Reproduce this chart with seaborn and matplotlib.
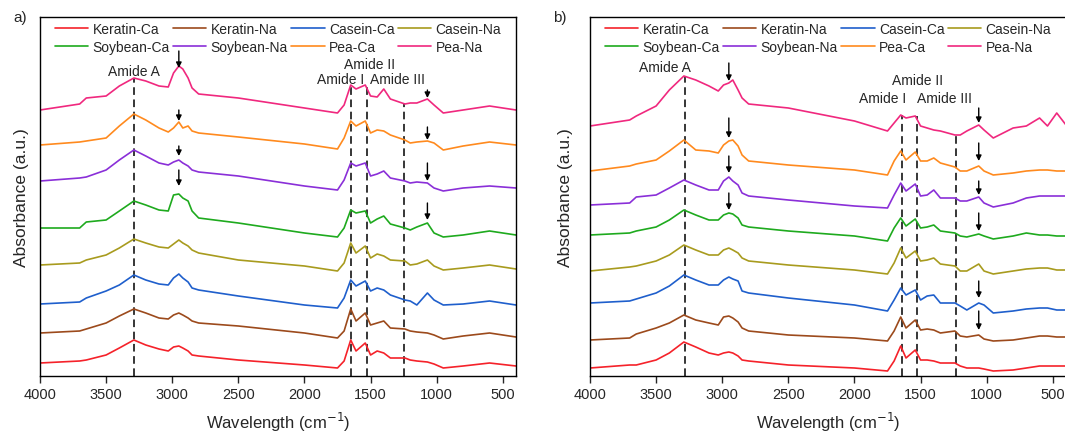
import numpy as np
import pandas as pd
import matplotlib
matplotlib.use("Agg")
import matplotlib.pyplot as plt
import seaborn as sns

# ---------------- data ----------------
series = ["Keratin-Ca", "Keratin-Na", "Casein-Ca", "Casein-Na",
          "Soybean-Ca", "Soybean-Na", "Pea-Ca", "Pea-Na"]
colors = ["#f5222a", "#9c4a1c", "#1f5fcc", "#a89b1e",
          "#1eaa1e", "#8a2fd8", "#ff8a1e", "#f0287e"]

wave_a = [4000, 3700, 3650, 3500, 3400, 3290, 3200, 3100, 3030, 2990, 2950, 2920,
          2880, 2850, 2800, 2500, 2000, 1750, 1700, 1650, 1610, 1540, 1500, 1450,
          1400, 1350, 1240, 1200, 1150, 1070, 1020, 950, 800, 600, 400]

a_keratin_ca = [13, 15, 16, 21, 28, 36, 31, 27, 25, 29, 30, 28, 25, 21, 20, 16, 11, 8, 15, 36,
                25, 33, 21, 25, 23, 18, 18, 16, 15, 14, 12, 8, 10, 13, 10]
a_keratin_na = [43, 45, 47, 53, 60, 67, 63, 58, 57, 61, 63, 61, 58, 55, 53, 50, 43, 38, 45, 67,
                55, 63, 51, 53, 55, 48, 47, 45, 44, 43, 41, 37, 40, 43, 39]
a_casein_ca = [72, 74, 78, 85, 91, 101, 96, 92, 91, 98, 102, 98, 94, 88, 86, 80, 71, 68, 78, 96,
               90, 95, 85, 88, 86, 81, 76, 75, 71, 83, 76, 71, 72, 75, 71]
a_casein_na = [111, 113, 116, 121, 128, 137, 133, 129, 128, 132, 136, 133, 130, 126, 123, 116, 110,
               105, 113, 133, 123, 130, 118, 122, 120, 116, 115, 111, 112, 116, 110, 106, 108, 111, 107]
a_soy_ca = [148, 148, 154, 156, 165, 175, 171, 166, 165, 181, 182, 178, 175, 165, 158, 153, 143,
            139, 148, 166, 163, 165, 153, 157, 160, 152, 148, 146, 149, 153, 143, 139, 141, 145, 141]
a_soy_na = [195, 198, 199, 206, 216, 226, 220, 213, 211, 214, 216, 213, 210, 206, 204, 200, 190,
            186, 196, 213, 210, 213, 200, 202, 205, 198, 195, 193, 194, 193, 188, 185, 188, 190, 188]
a_pea_ca = [231, 234, 235, 238, 250, 262, 256, 248, 244, 248, 254, 248, 250, 245, 243, 239, 232,
            227, 238, 255, 250, 255, 243, 246, 245, 241, 236, 233, 234, 235, 233, 226, 230, 234, 231]
a_pea_na = [266, 272, 278, 280, 290, 298, 295, 290, 289, 303, 310, 307, 298, 288, 282, 278, 268,
            263, 271, 291, 287, 291, 280, 279, 287, 277, 272, 273, 273, 277, 271, 263, 266, 270, 266]

wave_b = [4000, 3700, 3650, 3500, 3400, 3290, 3200, 3100, 3030, 2990, 2950, 2920,
          2880, 2850, 2800, 2500, 2000, 1750, 1700, 1650, 1610, 1540, 1500, 1450,
          1400, 1350, 1240, 1200, 1150, 1060, 1020, 950, 800, 700, 600, 540, 470, 400]

b_keratin_ca = [8, 11, 11, 16, 23, 34, 29, 23, 21, 23, 24, 23, 20, 16, 15, 11, 8, 5, 15, 30,
                18, 26, 16, 16, 15, 13, 13, 10, 8, 8, 7, 5, 6, 8, 10, 10, 10, 10]
b_keratin_na = [36, 38, 42, 48, 53, 61, 56, 53, 51, 59, 60, 58, 54, 48, 45, 41, 38, 35, 45, 59,
                48, 56, 46, 47, 46, 43, 45, 40, 39, 41, 37, 35, 36, 38, 40, 40, 39, 39]
b_casein_ca = [73, 75, 77, 83, 90, 101, 96, 91, 91, 96, 99, 97, 95, 85, 83, 78, 71, 65, 76, 88,
               81, 86, 76, 80, 81, 73, 73, 70, 66, 73, 71, 63, 65, 67, 68, 68, 66, 66]
b_casein_na = [105, 109, 110, 115, 121, 131, 126, 121, 121, 126, 128, 126, 123, 118, 115, 111, 106,
               102, 113, 128, 118, 125, 115, 116, 118, 112, 110, 105, 105, 112, 105, 102, 105, 107, 108, 108, 106, 106]
b_soy_ca = [141, 143, 145, 149, 156, 166, 161, 156, 156, 161, 163, 162, 158, 151, 149, 145, 140,
            135, 148, 158, 150, 157, 148, 149, 151, 145, 143, 140, 139, 142, 140, 137, 140, 143, 141, 141, 140, 140]
b_soy_na = [171, 173, 179, 181, 188, 196, 191, 186, 186, 195, 199, 195, 191, 183, 180, 176, 170,
            168, 181, 193, 185, 192, 180, 181, 186, 178, 178, 175, 175, 179, 173, 169, 173, 178, 180, 180, 180, 180]
b_pea_ca = [205, 210, 212, 216, 225, 236, 226, 225, 223, 231, 235, 236, 230, 221, 215, 211, 206,
            201, 215, 225, 216, 224, 215, 215, 218, 213, 209, 205, 205, 210, 205, 201, 203, 205, 206, 206, 205, 205]
b_pea_na = [250, 256, 260, 270, 286, 300, 296, 290, 285, 291, 293, 296, 286, 278, 272, 268, 255,
            245, 253, 261, 258, 260, 250, 248, 246, 245, 241, 241, 245, 251, 246, 238, 248, 250, 258, 250, 263, 251]

amide_labels = ["Amide A", "Amide I", "Amide II", "Amide III"]
# panel a annotation anchors (wavenumber, value)
a_line_w = [3290, 1645, 1530, 1245]
a_line_top = [298, 291, 291, 273]
a_text_w = [3290, 1730, 1510, 1300]
a_text_y = [305, 297, 312, 297]
a_arrow_w = [2950, 2950, 2950, 2950, 1070, 1070, 1070, 1070]
a_arrow_tail = [325, 266, 230, 206, 286, 249, 213, 173]
a_arrow_tip = [308, 255, 220, 190, 278, 236, 195, 156]
# panel b
b_line_w = [3283, 1640, 1530, 1235]
b_line_top = [300, 261, 260, 241]
b_text_w = [3432, 1785, 1525, 1317]
b_text_y = [309, 278, 296, 278]
b_arrow_w = [2950, 2950, 2950, 2950, 1060, 1060, 1060, 1060, 1060, 1060]
b_arrow_tail = [313, 258, 220, 183, 268, 233, 195, 163, 95, 65]
b_arrow_tip = [295, 238, 203, 166, 253, 215, 181, 145, 78, 46]

# ---------------- style ----------------
sns.set_theme(style="ticks")
plt.rcParams["font.family"] = ["Liberation Sans", "DejaVu Sans"]

W, H = 1065.0, 435.0
fig = plt.figure(figsize=(W / 100, H / 100), dpi=100)
ax_a = fig.add_axes([40 / W, 1 - 377 / H, 476 / W, 359 / H])
ax_b = fig.add_axes([590 / W, 1 - 377 / H, 476 / W, 359 / H])

palette = dict(zip(series, colors))


def make_df(wave, cols):
    frames = []
    for name, vals in zip(series, cols):
        frames.append(pd.DataFrame({"Wavenumber": wave, "Absorbance": vals, "Sample": name}))
    return pd.concat(frames, ignore_index=True)


df_a = make_df(wave_a, [a_keratin_ca, a_keratin_na, a_casein_ca, a_casein_na,
                        a_soy_ca, a_soy_na, a_pea_ca, a_pea_na])
df_b = make_df(wave_b, [b_keratin_ca, b_keratin_na, b_casein_ca, b_casein_na,
                        b_soy_ca, b_soy_na, b_pea_ca, b_pea_na])

panels = [
    (ax_a, df_a, "a)", 13, 8, a_line_w, a_line_top, a_text_w, a_text_y, a_arrow_w, a_arrow_tail, a_arrow_tip),
    (ax_b, df_b, "b)", 553, 12, b_line_w, b_line_top, b_text_w, b_text_y, b_arrow_w, b_arrow_tail, b_arrow_tip),
]

for ax, df, tag, tag_x, ypad, lw_, lt_, tw_, ty_, aw_, atl_, atp_ in panels:
    sns.lineplot(data=df, x="Wavenumber", y="Absorbance", hue="Sample",
                 hue_order=series, palette=palette, ax=ax, linewidth=1.2,
                 estimator=None, sort=True, legend=True)
    ax.set_xlim(4000, 400)
    ax.set_ylim(0, 359)
    ax.set_xticks([4000, 3500, 3000, 2500, 2000, 1500, 1000, 500])
    ax.set_yticks([])
    ax.tick_params(axis="x", labelsize=10.5, direction="out", length=5, width=1, pad=3)
    for s in ax.spines.values():
        s.set_visible(True)
        s.set_linewidth(1.0)
        s.set_color("black")
    ax.set_xlabel("Wavelength (cm$^{-1}$)", fontsize=12, labelpad=6)
    ax.set_ylabel("Absorbance (a.u.)", fontsize=12.5, labelpad=ypad)

    # dashed reference lines
    for w, top in zip(lw_, lt_):
        ax.plot([w, w], [0, top], color="black", lw=1.1, ls=(0, (5, 3)), zorder=1)
    for lab, w, y in zip(amide_labels, tw_, ty_):
        ax.text(w, y, lab, ha="center", va="center", fontsize=10)
    for w, t0, t1 in zip(aw_, atl_, atp_):
        ax.annotate("", xy=(w, t1), xytext=(w, t0),
                    arrowprops=dict(arrowstyle="-|>", color="black", lw=1.0,
                                    mutation_scale=8, shrinkA=0, shrinkB=0))

    handles, labels = ax.get_legend_handles_labels()
    order = [0, 4, 1, 5, 2, 6, 3, 7]
    ax.legend([handles[i] for i in order], [labels[i] for i in order],
              ncol=4, loc="upper center", bbox_to_anchor=(0.5, 1.0), frameon=False,
              fontsize=10, handlelength=2.4, columnspacing=0.25, handletextpad=0.3,
              labelspacing=0.3, borderpad=0.35, borderaxespad=0.0)
    fig.text(tag_x / W, 1 - 18 / H, tag, fontsize=11, ha="left", va="center")

fig.savefig("out.png", dpi=100)
